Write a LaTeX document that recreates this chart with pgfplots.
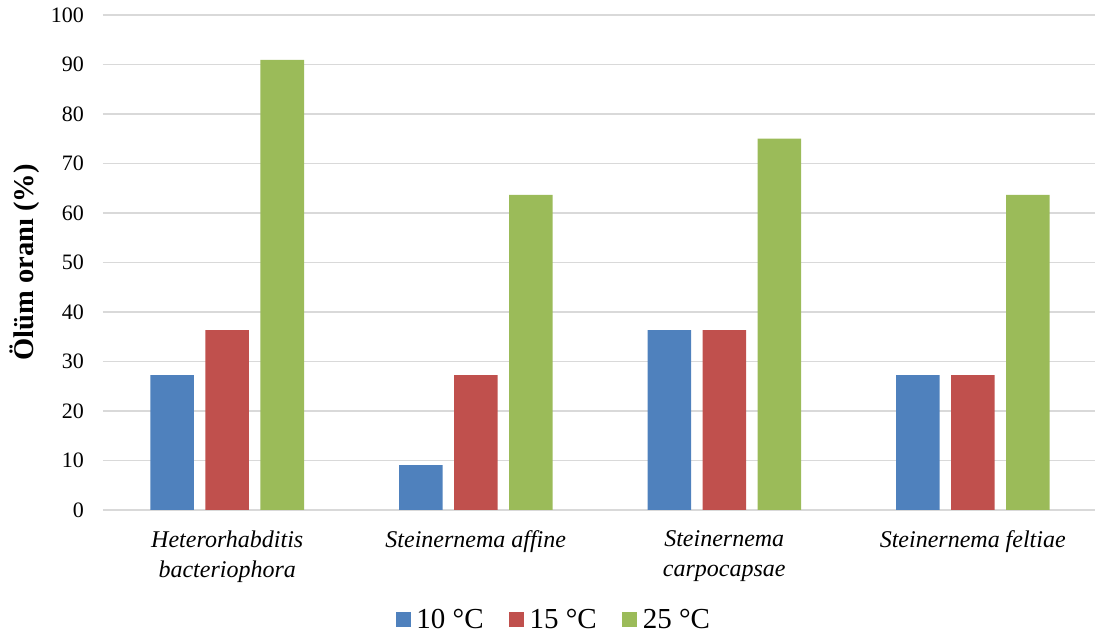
\documentclass[border=0pt]{standalone}
\usepackage{fontspec}
\setmainfont{Liberation Serif}
\usepackage{pgfplots}
\pgfplotsset{compat=1.18}

\definecolor{c10}{HTML}{4F81BD}
\definecolor{c15}{HTML}{C0504D}
\definecolor{c25}{HTML}{9BBB59}
\definecolor{gridgray}{HTML}{D9D9D9}

\begin{document}
\begin{tikzpicture}
\path[use as bounding box] (-103pt,-126pt) rectangle (992pt,510pt);
\begin{axis}[
  at={(0,0)}, anchor=south west,
  scale only axis,
  width=994pt, height=495pt,
  ybar, bar width=43.5pt, ybar=11.5pt,
  xmin=-0.5, xmax=3.5,
  ymin=0, ymax=100,
  ytick={0,10,...,100},
  xtick={0,1,2,3},
  xticklabels={{Heterorhabditis\\bacteriophora},{Steinernema affine},{Steinernema\\carpocapsae},{Steinernema feltiae}},
  axis line style={draw=none},
  tick style={draw=none},
  ymajorgrids,
  grid style={gridgray, line width=1.5pt},
  /pgf/number format/assume math mode=true,
  yticklabel style={font=\fontsize{22}{26}\selectfont, inner sep=0pt, anchor=east, xshift=-19pt},
  xticklabel style={font=\fontsize{24}{30}\selectfont\itshape, align=center, inner sep=0pt, anchor=north, yshift=-16pt},
  ylabel={Ölüm oranı (\%)},
  ylabel style={font=\fontsize{28.5}{32}\selectfont\bfseries, at={(axis description cs:-0.0785,0.5)}, anchor=center, rotate=0},
  legend columns=3,
  legend style={at={(axis description cs:0.4555,-0.222)}, anchor=center, draw=none, fill=none,
    font=\fontsize{29}{33}\selectfont, inner sep=0pt,
    nodes={inner sep=5.5pt},
    /tikz/every even column/.append style={column sep=20pt}},
  legend image code/.code={\fill[#1,draw=none] (0pt,-7.5pt) rectangle (15pt,7.5pt);},
]
\addplot[fill=c10, draw=none] coordinates {(0,27.27) (1,9.09) (2,36.36) (3,27.27)};
\addplot[fill=c15, draw=none] coordinates {(0,36.36) (1,27.27) (2,36.36) (3,27.27)};
\addplot[fill=c25, draw=none] coordinates {(0,90.91) (1,63.64) (2,75.00) (3,63.64)};
\legend{10 °C, 15 °C, 25 °C}
\end{axis}
\end{tikzpicture}
\end{document}
